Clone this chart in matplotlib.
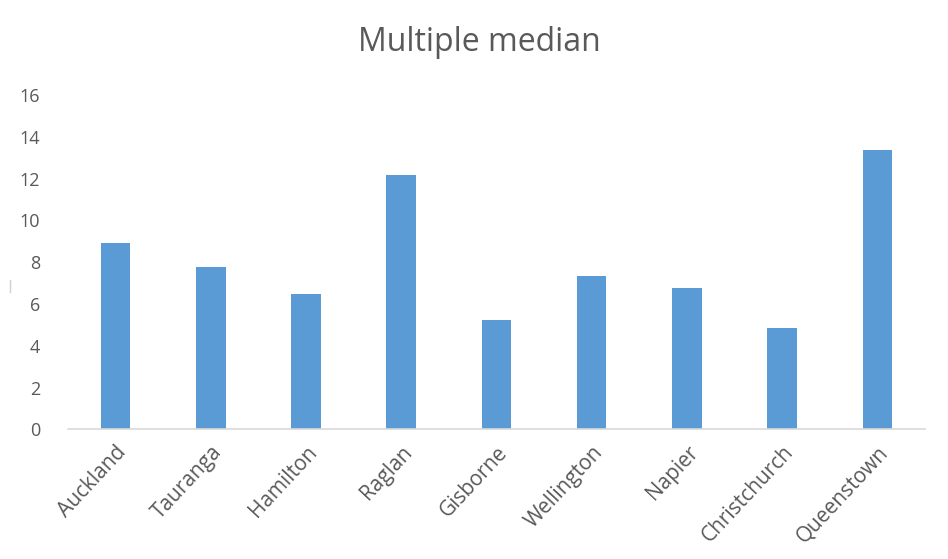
import matplotlib
matplotlib.use("Agg")
import matplotlib.pyplot as plt
from matplotlib.lines import Line2D

# city medians
cities = ["Auckland", "Tauranga", "Hamilton", "Raglan", "Gisborne",
          "Wellington", "Napier", "Christchurch", "Queenstown"]
medians = [8.93, 7.78, 6.47, 12.17, 5.23, 7.32, 6.75, 4.85, 13.38]
yticks = [0, 2, 4, 6, 8, 10, 12, 14, 16]

plt.rcParams['font.family'] = ['Open Sans', 'DejaVu Sans']
grey = "#595959"

fig = plt.figure(figsize=(9.48, 5.59), dpi=100)
ax = fig.add_axes([0.0717, 0.232, 0.9040, 0.598])

ax.bar(range(len(cities)), medians, width=0.31, color="#5B9BD5")
ax.set_xlim(-0.5, len(cities) - 0.5)
ax.set_ylim(0, 16)
ax.set_yticks(yticks)
ax.set_yticklabels([str(t) for t in yticks], fontsize=13, color=grey)
ax.set_xticks(range(len(cities)))
ax.set_xticklabels(cities, rotation=47, ha="right", rotation_mode="anchor",
                   fontsize=15, color=grey)
ax.tick_params(axis="y", length=0, pad=20)
ax.tick_params(axis="x", length=0, pad=9)

for s in ["top", "right", "left"]:
    ax.spines[s].set_visible(False)
ax.spines["bottom"].set_color("#D9D9D9")
ax.spines["bottom"].set_linewidth(1.2)

fig.text(0.506, 0.924, "Multiple median", ha="center", va="center",
         fontsize=23, color=grey)

# faint leftover axis-title stub at the left edge
fig.add_artist(Line2D([0.011, 0.011], [0.478, 0.500], color="#D0D0D0", lw=1))

fig.savefig("out.png", dpi=100)
